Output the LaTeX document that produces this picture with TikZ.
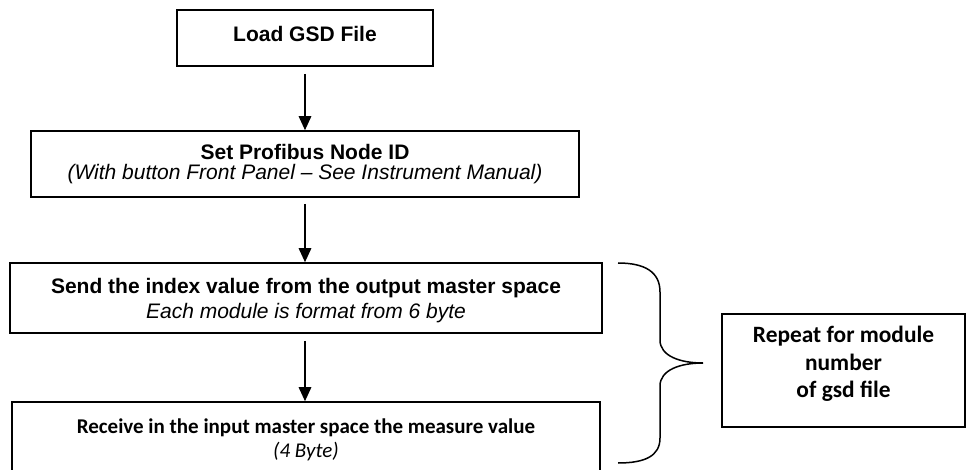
\documentclass[tikz,border=0pt]{standalone}
\usepackage{fontspec}
\newfontfamily\arialf{Liberation Sans}
\newfontfamily\calibrif{Carlito}
\usetikzlibrary{arrows.meta}
\tikzset{
  box/.style={draw, line width=1.6pt, inner sep=0pt},
  arr/.style={-{Triangle[width=12.5pt,length=14pt]}, line width=1.5pt},
  atxt/.style={anchor=base, inner sep=0pt, font=\arialf\fontsize{21}{24}\selectfont},
  ctxt/.style={anchor=base, inner sep=0pt, font=\calibrif\fontsize{21}{24}\selectfont},
  rtxt/.style={anchor=base, inner sep=0pt, font=\calibrif\bfseries\fontsize{23.4}{28}\selectfont},
}
\begin{document}
\begin{tikzpicture}[x=1pt,y=-1pt]
\useasboundingbox (0,0) rectangle (966,470);
\clip (0,0) rectangle (966,470);

% boxes
\node[box, minimum width=256pt, minimum height=56pt] (b1) at (305,38) {};
\node[box, minimum width=548pt, minimum height=66pt] (b2) at (305,164) {};
\node[box, minimum width=592pt, minimum height=70pt] (b3) at (306,298) {};
\node[box, minimum width=588pt, minimum height=86pt] (b4) at (306,445) {};
\node[box, minimum width=243pt, minimum height=113pt] (rep) at (843.5,370.5) {};

% texts
\node[atxt] (t1) at (305,42) {\bfseries Load GSD File};
\node[atxt] (t2a) at (305,160) {\bfseries Set Profibus Node ID};
\node[atxt] (t2b) at (305,180) {\itshape (With button Front Panel – See Instrument Manual)};
\node[atxt] (t3a) at (306,294) {\bfseries Send the index value from the output master space};
\node[atxt] (t3b) at (306,318) {\itshape Each module is format from 6 byte};
\node[ctxt] (t4a) at (306,433) {\bfseries Receive in the input master space the measure value};
\node[ctxt] (t4b) at (306,457) {\itshape (4 Byte)};
\node[rtxt] (r1) at (843.5,342) {Repeat for module};
\node[rtxt] (r2) at (843.5,370) {number};
\node[rtxt] (r3) at (843.5,397) {of gsd file};

% arrows
\draw[arr, shorten <=7pt] (b1.south) -- (b2.north);
\draw[arr, shorten <=6pt] (b2.south) -- (b2.south |- b3.north);
\draw[arr, shorten <=7pt] (b2.south |- b3.south) -- (b2.south |- b4.north);

% brace
\draw[line width=1.5pt] (618,263) .. controls (645,263) and (660,272) .. (660,292)
  -- (660,340) .. controls (660,356) and (680,363) .. (703,363)
  .. controls (680,363) and (660,370) .. (660,386)
  -- (660,438) .. controls (660,456) and (645,463) .. (618,463);
\end{tikzpicture}
\end{document}
